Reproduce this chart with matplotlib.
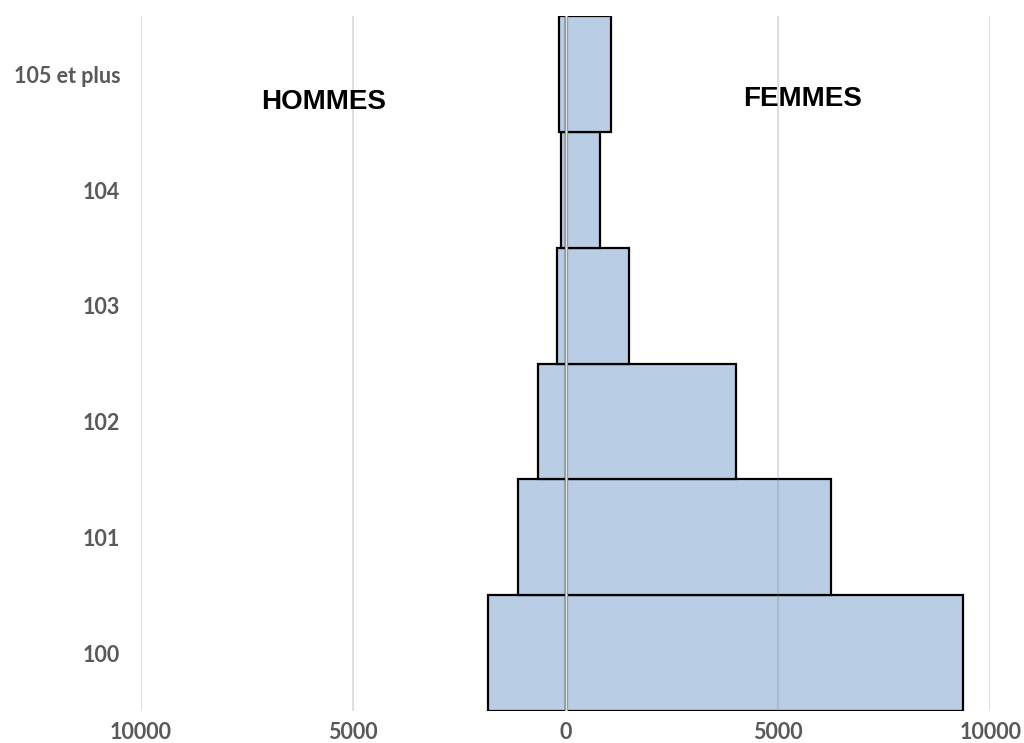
import numpy as np
import matplotlib
matplotlib.use('Agg')
import matplotlib.pyplot as plt

# age groups, bottom to top
ages = ['100', '101', '102', '103', '104', '105 et plus']
hommes = [1830, 1120, 640, 210, 120, 165]
femmes = [9360, 6240, 4010, 1495, 800, 1068]

xticks = [-10000, -5000, 0, 5000, 10000]
xticklabels = ['10000', '5000', '0', '5000', '10000']

bar_color = '#B9CDE5'
label_color = '#595959'

fig = plt.figure(figsize=(10.24, 7.43), dpi=100)
ax = fig.add_axes([0.1377, 0.0431, 0.967 - 0.1377, 0.978 - 0.0431])

y = np.arange(len(ages))
ax.barh(y, -np.array(hommes), height=1.0, color=bar_color,
        edgecolor='black', linewidth=1.6, zorder=2)
ax.barh(y, femmes, height=1.0, color=bar_color,
        edgecolor='black', linewidth=1.6, zorder=2)

# gridlines, drawn over the bars like in the original
for xv in [-10000, -5000, 5000, 10000]:
    ax.axvline(xv, color='#808080', alpha=0.3, lw=1.2, zorder=3)
# double line at zero
ax.axvline(0, color='#9A9A9A', lw=2.4, zorder=4)
ax.axvline(0, color='#E6E6E6', lw=0.7, zorder=5)

ax.set_xlim(-10000, 10000)
ax.set_ylim(-0.5, len(ages) - 0.5)

ax.set_xticks(xticks)
ax.set_xticklabels(xticklabels)
ax.set_yticks(y)
ax.set_yticklabels(ages)
ax.tick_params(axis='both', length=0, labelsize=15.5, labelcolor=label_color)
ax.tick_params(axis='x', pad=8)
ax.tick_params(axis='y', pad=15)
for lab in ax.get_xticklabels() + ax.get_yticklabels():
    lab.set_fontfamily('Lato')
    lab.set_fontweight('bold')

for s in ax.spines.values():
    s.set_visible(False)

ax.text(-5700, 4.756, 'HOMMES', ha='center', va='center', fontsize=20,
        fontweight='bold', family='Liberation Sans', color='black')
ax.text(5583, 4.79, 'FEMMES', ha='center', va='center', fontsize=20,
        fontweight='bold', family='Liberation Sans', color='black')

fig.savefig('out.png', dpi=100)
